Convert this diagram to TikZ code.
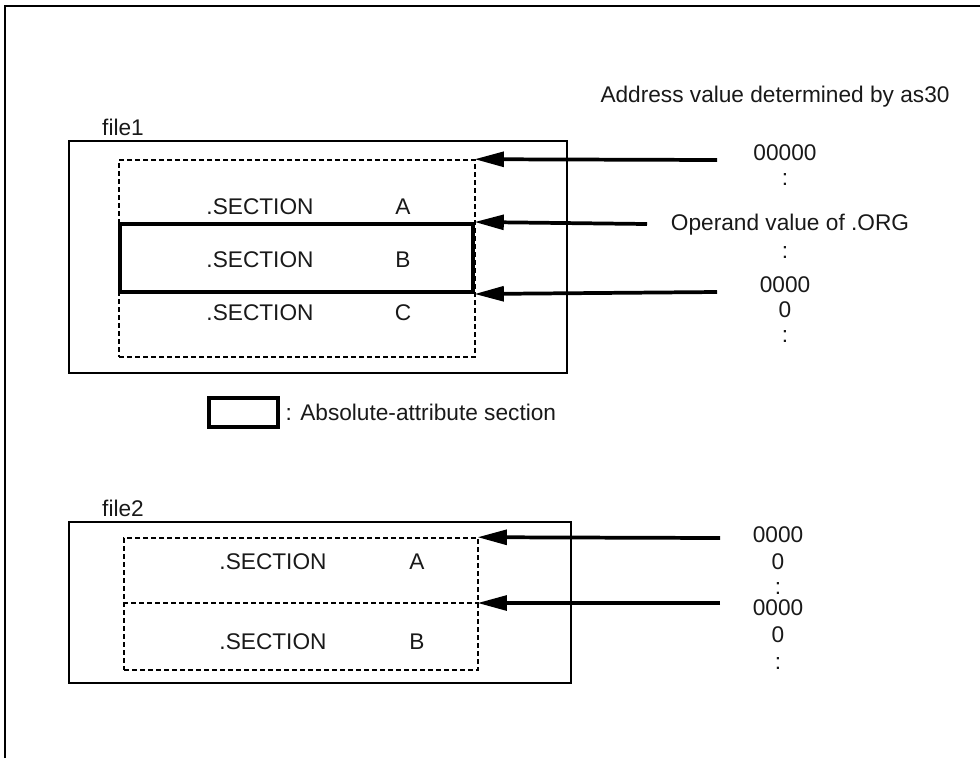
\documentclass[tikz,border=0pt]{standalone}
\usepackage{fontspec}
\setmainfont{Liberation Sans}
\usetikzlibrary{arrows.meta, positioning, fit}

\begin{document}
\begin{tikzpicture}[x=0.75pt, y=-0.75pt,
      every node/.style={font=\fontsize{17}{20}\selectfont, text=black!90},
      filebox/.style={draw, line width=1.4pt, inner sep=0pt},
      dashbox/.style={draw, line width=1.2pt, dash pattern=on 3.75pt off 2.25pt, inner sep=0pt},
      absbox/.style={draw, line width=3pt, inner sep=0pt},
      arr/.style={-{Triangle[length=22pt, width=11pt]}, line width=2.8pt, shorten >=-1pt},
      lbl/.style={inner sep=0pt}]

    \useasboundingbox (0,0) rectangle (980,758);

    % === outer frame ===
    \draw[line width=1.6pt] (5,758) -- (5,6) -- (980,6);

    % === file1 ===
    \node[lbl] (f1name) at (123,127) {file1};
    \node[filebox, fit={(69,141) (567,373)}] (file1) {};
    \node[dashbox, fit={(119,160) (475,357)}] (sec1) {};
    \node[absbox, fit={(120,224) (473,292)}] (secB) {};
    \node[lbl] (sA) at (260,207) {.SECTION};
    \node[lbl] (nA) at (403,207) {A};
    \node[lbl] (sB) at (260,260) {.SECTION};
    \node[lbl] (nB) at (403,260) {B};
    \node[lbl] (sC) at (260,313) {.SECTION};
    \node[lbl] (nC) at (403,313) {C};

    % === addresses of file1 ===
    \node[lbl] (addr) at (775,97) {Address value determined by as30};
    \node[lbl] (v1) at (785,153) {00000};
    \node[lbl] (d1) at (785,180) {:};
    \node[lbl] (org) at (790,225) {Operand value of .ORG};
    \node[lbl] (d2) at (785,253) {:};
    \node[lbl] (v2) at (785,285) {0000};
    \node[lbl] (v2b) at (785,310) {0};
    \node[lbl] (d3) at (785,337) {:};

    \coordinate (p1) at (717,160);
    \coordinate (p2) at (647,224);
    \coordinate (p3) at (717,292);
    \draw[arr] (p1) -- (sec1.north east);
    \draw[arr] (p2) -- (secB.north east -| sec1.east);
    \draw[arr] (p3) -- (secB.south east -| sec1.east);

    % === legend ===
    \node[absbox, fit={(209,398) (278,427)}] (legbox) {};
    \node[lbl, anchor=west] (legtxt) at ([xshift=4pt]legbox.east) {: Absolute-attribute section};

    % === file2 ===
    \node[lbl] (f2name) at (123,508) {file2};
    \node[filebox, fit={(69,522) (571,683)}] (file2) {};
    \node[dashbox, fit={(124,538) (478,670)}] (sec2) {};
    \draw[dashbox] (sec2.west |- 0,603) coordinate (midw) -- (sec2.east |- 0,603) coordinate (mide);
    \node[lbl] (tA) at (273,562) {.SECTION};
    \node[lbl] (mA) at (417,562) {A};
    \node[lbl] (tB) at (273,642) {.SECTION};
    \node[lbl] (mB) at (417,642) {B};

    % === addresses of file2 ===
    \node[lbl] (w1) at (778,535) {0000};
    \node[lbl] (w1b) at (778,562) {0};
    \node[lbl] (e1) at (778,588) {:};
    \node[lbl] (w2) at (778,608) {0000};
    \node[lbl] (w2b) at (778,635) {0};
    \node[lbl] (e2) at (778,663) {:};

    \coordinate (q1) at (720,538);
    \coordinate (q2) at (720,603);
    \draw[arr] (q1) -- (sec2.north east);
    \draw[arr] (q2) -- (mide);

\end{tikzpicture}
\end{document}
